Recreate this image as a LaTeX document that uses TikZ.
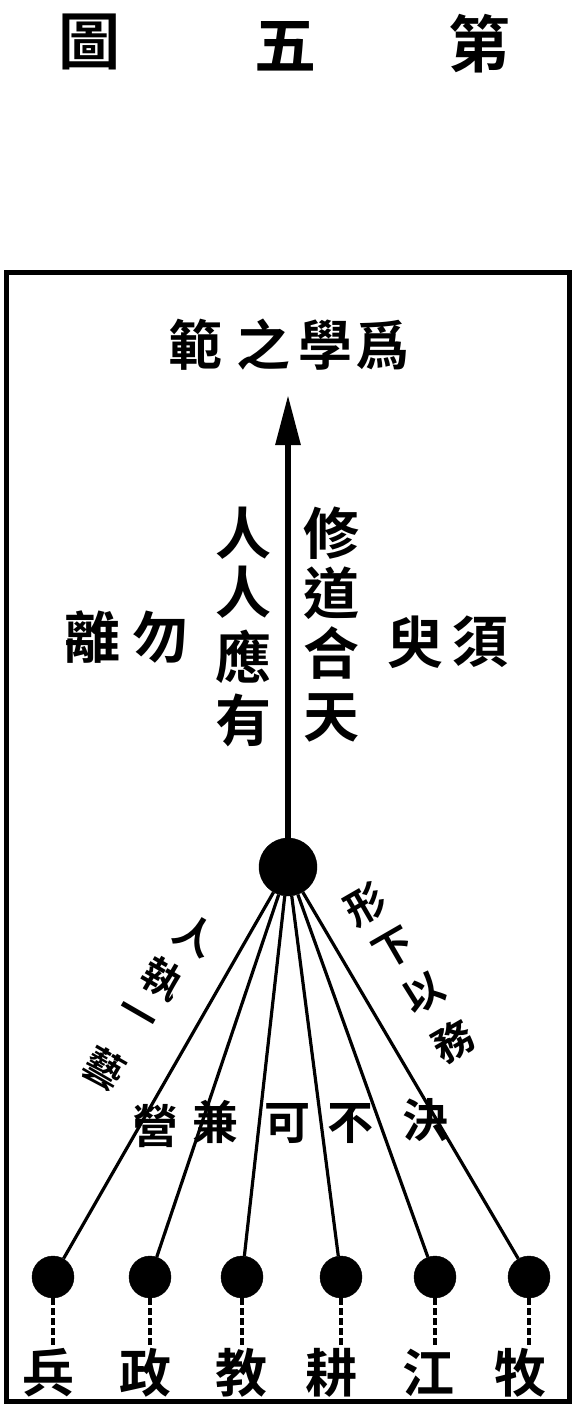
\documentclass[tikz,border=0pt]{standalone}
\usepackage{fontspec}
\newfontfamily\cjk{Noto Sans CJK TC}[BoldFont={Noto Sans CJK TC Bold}]
\usetikzlibrary{arrows.meta}
\tikzset{
  ch/.style={inner sep=0pt, font=\cjk\bfseries\fontsize{#1}{#1}\selectfont},
  dot/.style={circle, fill=black, draw=black, inner sep=0pt, minimum size=#1},
  frame/.style={draw=black, line width=5pt},
  spoke/.style={draw=black, line width=3.2pt},
  stem/.style={draw=black, line width=3.5pt, dash pattern=on 7pt off 3pt},
  mainarrow/.style={draw=black, line width=6pt, -{Triangle[length=50pt 0 0,width=24pt 0 0]}}
}
\begin{document}
\begin{tikzpicture}[x=1pt,y=-1pt]
\useasboundingbox (0,0) rectangle (577,1407);
\fill[white] (0,0) rectangle (577,1407);
% title
\node[ch=62] (t1) at (89,42) {圖};
\node[ch=62] (t2) at (285,46) {五};
\node[ch=62] (t3) at (479,44) {第};
% frame
\draw[frame] (6,272) rectangle (569,1401);
% heading
\node[ch=54] (h1) at (195,345) {範};
\node[ch=54] (h2) at (263,345) {之};
\node[ch=54] (h3) at (325,345) {學};
\node[ch=54] (h4) at (382,345) {爲};
% centre dot and arrow
\node[dot=58pt] (c) at (288,867) {};
\coordinate (top) at (288,395);
\draw[mainarrow] (c) -- (top);
% columns
\node[ch=56] (l1) at (243,533) {人};
\node[ch=56] (l2) at (243,592) {人};
\node[ch=56] (l3) at (243,657) {應};
\node[ch=56] (l4) at (243,720) {有};
\node[ch=56] (r1) at (331,533) {修};
\node[ch=56] (r2) at (331,593) {道};
\node[ch=56] (r3) at (331,653) {合};
\node[ch=56] (r4) at (331,718) {天};
\node[ch=56] (w1) at (92,637) {離};
\node[ch=56] (w2) at (160,637) {勿};
\node[ch=56] (s1) at (415,642) {臾};
\node[ch=56] (s2) at (480,642) {須};
% bottom dots
\foreach \n/\x in {1/53,2/150,3/242,4/341,5/435,6/529}{
  \node[dot=42pt] (b\n) at (\x,1277) {};
  \coordinate (e\n) at (\x,1345);
  \draw[spoke] (c) -- (b\n);
  \draw[stem] (b\n) -- (e\n);
}
% bottom labels
\node[ch=52] (k1) at (49,1373) {兵};
\node[ch=52] (k2) at (145,1373) {政};
\node[ch=52] (k3) at (241,1373) {教};
\node[ch=52] (k4) at (331,1373) {耕};
\node[ch=52] (k5) at (428,1373) {江};
\node[ch=52] (k6) at (520,1373) {牧};
% labels between spokes
\node[ch=46] (m1) at (155,1126) {營};
\node[ch=46] (m2) at (215,1122) {兼};
\node[ch=46] (m3) at (287,1124) {可};
\node[ch=46] (m4) at (350,1124) {不};
\node[ch=46] (m5) at (425,1120) {決};
% slanted labels
\node[ch=40, rotate=-30] (a1) at (195,935) {人};
\node[ch=40, rotate=-30] (a2) at (162,979) {執};
\node[ch=40, rotate=-30] (a3) at (135,1019) {一};
\node[ch=40, rotate=-30] (a4) at (104,1068) {藝};
\node[ch=40, rotate=30] (d1) at (365,905) {形};
\node[ch=40, rotate=30] (d2) at (394,949) {下};
\node[ch=40, rotate=30] (d3) at (424,993) {以};
\node[ch=40, rotate=30] (d4) at (453,1041) {務};
\end{tikzpicture}
\end{document}
